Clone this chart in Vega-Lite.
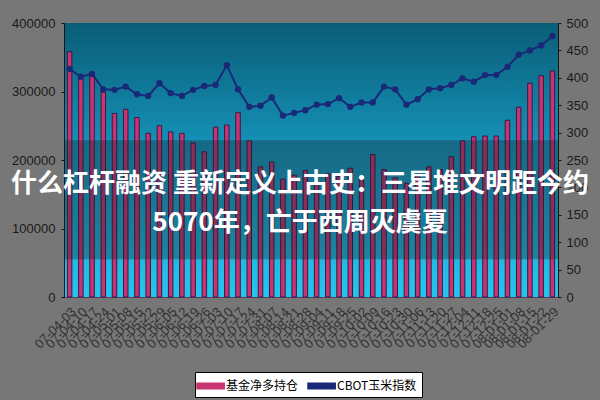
{
  "$schema": "https://vega.github.io/schema/vega-lite/v6.json",
  "width": 494,
  "height": 274,
  "autosize": {"type": "none"},
  "padding": {"left": 64, "top": 23, "right": 42, "bottom": 103},
  "background": "#777777",
  "config": {
    "view": {"stroke": null, "fill": {"gradient": "linear", "x1": 0, "y1": 0, "x2": 0, "y2": 1, "stops": [{"offset": 0, "color": "#0a5d76"}, {"offset": 0.45, "color": "#1592b8"}, {"offset": 1, "color": "#24c6ee"}]}},
    "font": "Liberation Sans",
    "axis": {"grid": false, "title": null, "labelColor": "#1a1a1a", "domainColor": "#151515", "tickColor": "#151515", "labelFont": "Liberation Sans"},
    "legend": {
      "orient": "none",
      "legendX": 131,
      "legendY": 349,
      "direction": "horizontal",
      "fillColor": "#ffffff",
      "strokeColor": "#000000",
      "padding": 5,
      "labelFont": "Noto Sans CJK SC",
      "labelFontSize": 12,
      "labelColor": "#000000",
      "symbolSize": 256,
      "labelOffset": 8,
      "columnPadding": 6
    }
  },
  "title": {
    "text": ["什么杠杆融资 重新定义上古史：三星堆文明距今约", "5070年，亡于西周灭虞夏"],
    "font": "Noto Sans CJK SC",
    "fontSize": 26,
    "fontWeight": "bold",
    "color": "#ffffff",
    "anchor": "middle",
    "frame": "group",
    "dx": -11,
    "offset": -219,
    "baseline": "top",
    "lineHeight": 39
  },
  "data": {
    "values": [
      {"d": "07-04-03", "pos": 358000, "corn": 416},
      {"d": "07-04-10", "pos": 322000, "corn": 402},
      {"d": "07-04-17", "pos": 323000, "corn": 407},
      {"d": "07-04-24", "pos": 299000, "corn": 379},
      {"d": "07-05-01", "pos": 268000, "corn": 378},
      {"d": "07-05-08", "pos": 274000, "corn": 384},
      {"d": "07-05-15", "pos": 262000, "corn": 370},
      {"d": "07-05-22", "pos": 239000, "corn": 367},
      {"d": "07-05-29", "pos": 250000, "corn": 390},
      {"d": "07-06-05", "pos": 241000, "corn": 372},
      {"d": "07-06-12", "pos": 239000, "corn": 367},
      {"d": "07-06-19", "pos": 225000, "corn": 378},
      {"d": "07-06-26", "pos": 212000, "corn": 385},
      {"d": "07-07-03", "pos": 248000, "corn": 387},
      {"d": "07-07-10", "pos": 251000, "corn": 423},
      {"d": "07-07-17", "pos": 269000, "corn": 379},
      {"d": "07-07-24", "pos": 228000, "corn": 347},
      {"d": "07-07-31", "pos": 190000, "corn": 349},
      {"d": "07-08-07", "pos": 197000, "corn": 364},
      {"d": "07-08-14", "pos": 172000, "corn": 331},
      {"d": "07-08-21", "pos": 178000, "corn": 336},
      {"d": "07-08-28", "pos": 185000, "corn": 341},
      {"d": "07-09-04", "pos": 165000, "corn": 351},
      {"d": "07-09-11", "pos": 180000, "corn": 352},
      {"d": "07-09-18", "pos": 176000, "corn": 363},
      {"d": "07-09-25", "pos": 188000, "corn": 347},
      {"d": "07-10-02", "pos": 172000, "corn": 355},
      {"d": "07-10-09", "pos": 208000, "corn": 355},
      {"d": "07-10-16", "pos": 186000, "corn": 384},
      {"d": "07-10-23", "pos": 174000, "corn": 379},
      {"d": "07-10-30", "pos": 166000, "corn": 351},
      {"d": "07-11-06", "pos": 176000, "corn": 361},
      {"d": "07-11-13", "pos": 190000, "corn": 379},
      {"d": "07-11-20", "pos": 186000, "corn": 381},
      {"d": "07-11-27", "pos": 205000, "corn": 387},
      {"d": "07-12-04", "pos": 228000, "corn": 399},
      {"d": "07-12-11", "pos": 234000, "corn": 393},
      {"d": "07-12-18", "pos": 235000, "corn": 405},
      {"d": "07-12-25", "pos": 235000, "corn": 405},
      {"d": "08-01-01", "pos": 258000, "corn": 420},
      {"d": "08-01-08", "pos": 277000, "corn": 442},
      {"d": "08-01-15", "pos": 312000, "corn": 450},
      {"d": "08-01-22", "pos": 323000, "corn": 459},
      {"d": "08-01-29", "pos": 330000, "corn": 476}
    ]
  },
  "layer": [
    {
      "layer": [
        {
          "mark": {"type": "bar", "stroke": "#3a1848", "strokeWidth": 1},
          "encoding": {
            "x": {"field": "d", "type": "ordinal", "sort": null, "scale": {"paddingInner": 0.6, "paddingOuter": 0.3}, "axis": {"labelAngle": -45, "labelFontSize": 13, "labelColor": "#333333", "ticks": false, "domainColor": "#5a3a5a", "labelPadding": 8}},
            "y": {"field": "pos", "type": "quantitative", "scale": {"domain": [0, 400000]}, "axis": {"values": [0, 50000, 100000, 150000, 200000, 250000, 300000, 350000, 400000], "format": "d", "labelFontSize": 13, "tickSize": 3, "labelPadding": 6}},
            "color": {
              "datum": "基金净多持仓",
              "type": "nominal",
              "scale": {"domain": ["基金净多持仓", "CBOT玉米指数"], "range": ["#c8346f", "#1a2878"]},
              "legend": {
                "title": null,
                "type": "symbol",
                "symbolType": "M-1.5,-0.35H1.9V0.35H-1.5Z",
                "encode": {
                  "symbols": {
                    "shape": {"condition": {"test": "datum.value === '基金净多持仓'", "value": "M-1.5,-0.35H1.9V0.35H-1.5Z"}, "value": "M-1.5,-0.09H1.9V0.09H-1.5Z M-0.1,0A0.3,0.3 0 1,1 0.5,0A0.3,0.3 0 1,1 -0.1,0Z"},
                    "stroke": {"condition": {"test": "datum.value === '基金净多持仓'", "value": "#3a1848"}, "value": "#1a2878"},
                    "strokeWidth": {"value": 1}
                  }
                }
              }
            }
          }
        },
        {
          "data": {"values": [{"band": 1}]},
          "mark": {"type": "rect", "fill": "#18222a", "opacity": 0.35},
          "encoding": {
            "y": {"datum": 229000, "type": "quantitative"},
            "y2": {"datum": 55000}
          }
        }
      ]
    },
    {
      "mark": {"type": "line", "strokeWidth": 2, "point": {"filled": true, "size": 40}},
      "encoding": {
        "x": {"field": "d", "type": "ordinal", "sort": null},
        "y": {"field": "corn", "type": "quantitative", "scale": {"domain": [0, 500]}, "axis": {"orient": "right", "values": [0, 50, 100, 150, 200, 250, 300, 350, 400, 450, 500], "labelFontSize": 13, "tickSize": 3, "labelPadding": 5}},
        "color": {"datum": "CBOT玉米指数", "type": "nominal", "legend": {"title": null, "symbolType": "M-1.5,-0.35H1.9V0.35H-1.5Z"}}
      }
    }
  ],
  "resolve": {"scale": {"y": "independent"}}
}
